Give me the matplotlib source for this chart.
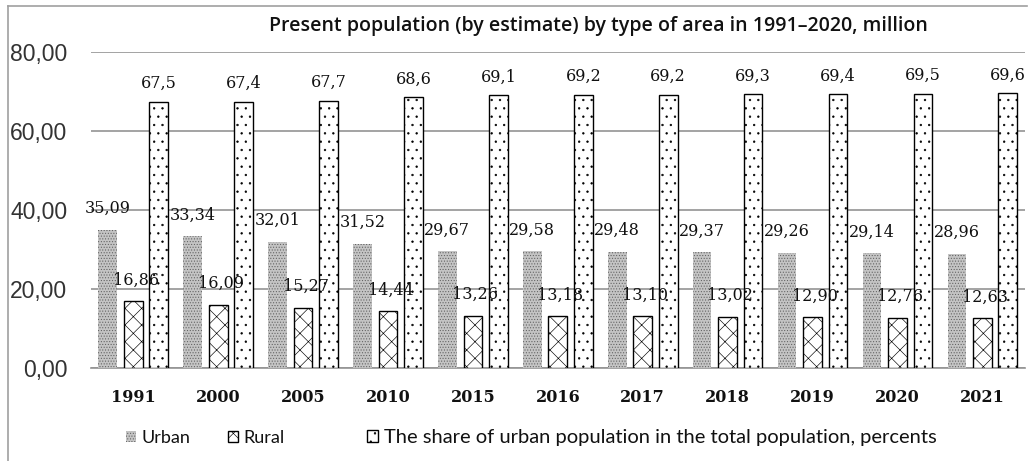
from matplotlib import pyplot as plt
from matplotlib.lines import Line2D
import numpy as np

plt.rcParams['hatch.linewidth'] = 0.45

years = ['1991', '2000', '2005', '2010', '2015', '2016', '2017', '2018', '2019', '2020', '2021']
urban = [35.09, 33.34, 32.01, 31.52, 29.67, 29.58, 29.48, 29.37, 29.26, 29.14, 28.96]
rural = [16.86, 16.09, 15.27, 14.44, 13.26, 13.18, 13.10, 13.02, 12.90, 12.76, 12.63]
share = [67.5, 67.4, 67.7, 68.6, 69.1, 69.2, 69.2, 69.3, 69.4, 69.5, 69.6]

def fmt(v, nd):
    return f'{v:.{nd}f}'.replace('.', ',')

fig = plt.figure(figsize=(10.32, 4.61), dpi=100)
ax = fig.add_axes([0.088, 0.2017, 0.905, 0.685])

x = np.arange(len(years))
w = 0.22
off = 0.30
b1 = ax.bar(x - off, urban, w, color='#c4c4c4', edgecolor='#606060', linewidth=0,
            hatch='......', label='Urban', zorder=3)
b2 = ax.bar(x, rural, w, color='white', edgecolor='black', linewidth=1.0,
            hatch='xx', label='Rural', zorder=3)
b3 = ax.bar(x + off, share, w, color='white', edgecolor='black', linewidth=1.0,
            hatch='..', label='The share of urban population in the total population, percents', zorder=3)

lab_font = dict(family='DejaVu Serif', fontsize=11.5, color='#111111')
for i in range(len(years)):
    ax.annotate(fmt(urban[i], 2), (x[i] - off, urban[i]), xytext=(0, 9), textcoords='offset points',
                ha='center', va='bottom', **lab_font)
    ax.annotate(fmt(rural[i], 2), (x[i] + 0.03, rural[i]), xytext=(0, 9), textcoords='offset points',
                ha='center', va='bottom', **lab_font)
    ax.annotate(fmt(share[i], 1), (x[i] + off, share[i]), xytext=(0, 7), textcoords='offset points',
                ha='center', va='bottom', **lab_font)

ax.set_ylim(0, 80)
ax.set_xlim(-0.5, len(years) - 0.5)
ax.set_yticks([0, 20, 40, 60, 80])
ax.set_yticklabels([fmt(v, 2) for v in [0, 20, 40, 60, 80]], family='Liberation Sans',
                   fontsize=16.5, color='#333333')
ax.set_xticks(x)
ax.set_xticklabels(years, family='DejaVu Serif', fontweight='bold', fontsize=11.5, color='#111111')
ax.tick_params(axis='both', length=0)
ax.tick_params(axis='x', pad=15)
ax.tick_params(axis='y', pad=17)
ax.yaxis.grid(True, color='#939393', linewidth=1.2, zorder=0)
ax.set_axisbelow(True)
for s in ['top', 'right', 'left']:
    ax.spines[s].set_visible(False)
ax.spines['bottom'].set_color('#939393')
ax.spines['bottom'].set_linewidth(1.2)

fig.text(0.58, 0.943, 'Present population (by estimate) by type of area in 1991–2020, million',
         ha='center', va='center', family='Open Sans', fontweight='semibold', fontsize=14, color='#111111')

# legend entries placed one by one (uneven gaps in the original)
leg_x = [126 / 1032, 228 / 1032, 367 / 1032]
leg_sizes = [13, 13, 14.5]
for h, lx, fs in zip([b1, b2, b3], leg_x, leg_sizes):
    lg = fig.legend(handles=[h], loc='center left', bbox_to_anchor=(lx, 0.05), frameon=False,
                    prop=dict(family='Lato', size=fs), handlelength=0.55, handleheight=0.55,
                    handletextpad=0.3, borderpad=0, borderaxespad=0)
    for t in lg.get_texts():
        t.set_color('#111111')

# outer frame: only left and top edges visible
fig.add_artist(Line2D([8 / 1032, 8 / 1032], [0, 1 - 6 / 461], transform=fig.transFigure,
                      color='#a0a0a0', linewidth=1.2))
fig.add_artist(Line2D([8 / 1032, 1027 / 1032], [1 - 6 / 461, 1 - 6 / 461], transform=fig.transFigure,
                      color='#a0a0a0', linewidth=1.2))

fig.savefig('out.png', dpi=100)
